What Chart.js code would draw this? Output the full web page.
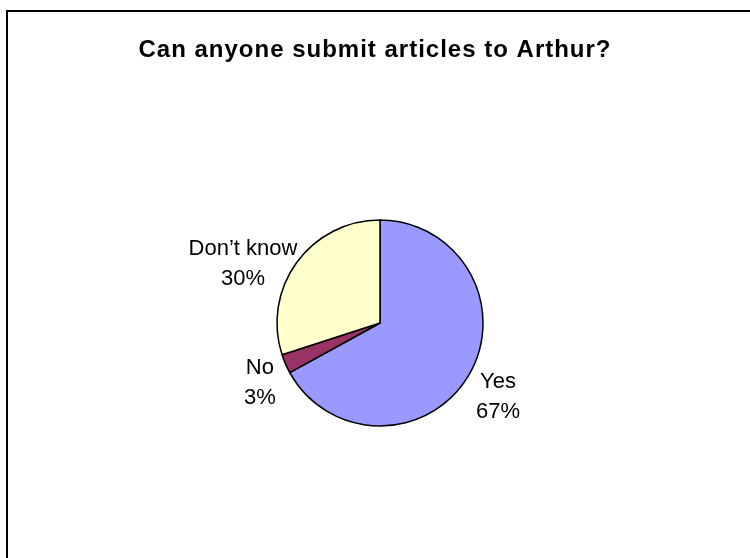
<!DOCTYPE html>
<html>
<head>
<meta charset="utf-8">
<script src="https://cdn.jsdelivr.net/npm/chart.js@4.4.0/dist/chart.umd.min.js"></script>
<style>
    html, body { margin: 0; padding: 0; background: #fff; }
    #wrap { width: 750px; height: 558px; position: relative; }
</style>
</head>
<body>
<div id="wrap"><canvas id="pie"></canvas></div>
<script>
const chartTitle = 'Can anyone submit articles to Arthur?';
const labels = ['Yes', 'No', 'Don\u2019t know'];
const values = [67, 3, 30];
const colors = ['#9999FF', '#993366', '#FFFFCC'];

// frame (left + top edge only, the rest is cropped away) and title
const framePlugin = {
    id: 'frame',
    beforeDraw(chart) {
        const ctx = chart.ctx;
        ctx.save();
        ctx.strokeStyle = '#000';
        ctx.lineWidth = 2;
        ctx.beginPath();
        ctx.moveTo(7, chart.height);
        ctx.lineTo(7, 11);
        ctx.lineTo(chart.width, 11);
        ctx.stroke();
        ctx.fillStyle = '#000';
        ctx.font = 'bold 24px "Liberation Sans", Arial, sans-serif';
        ctx.letterSpacing = '1px';
        ctx.textAlign = 'center';
        ctx.textBaseline = 'middle';
        ctx.fillText(chartTitle, 375, 50);
        ctx.restore();
    }
};

// category + percent labels outside each slice, inner edge just off the rim
const sliceLabels = {
    id: 'sliceLabels',
    afterDatasetsDraw(chart) {
        const ctx = chart.ctx;
        const meta = chart.getDatasetMeta(0);
        const total = values.reduce((a, b) => a + b, 0);
        ctx.save();
        ctx.fillStyle = '#000';
        ctx.font = '22px "Liberation Sans", Arial, sans-serif';
        ctx.textAlign = 'center';
        ctx.textBaseline = 'middle';
        meta.data.forEach((arc, i) => {
            const p = arc.getProps(['x', 'y', 'startAngle', 'endAngle', 'outerRadius'], true);
            const mid = (p.startAngle + p.endAngle) / 2;
            const pct = Math.round(values[i] / total * 100) + '%';
            const w = Math.max(ctx.measureText(labels[i]).width, ctx.measureText(pct).width);
            const d = p.outerRadius + 12;
            const x = p.x + Math.cos(mid) * (d + w / 2);
            const y = p.y + Math.sin(mid) * (d + 6) + 12;
            ctx.fillText(labels[i], x, y - 15);
            ctx.fillText(pct, x, y + 15);
        });
        ctx.restore();
    }
};

new Chart(document.getElementById('pie'), {
    type: 'pie',
    data: {
        labels: labels,
        datasets: [{
            data: values,
            backgroundColor: colors,
            borderColor: '#000',
            borderWidth: 1.5,
            radius: 103
        }]
    },
    options: {
        responsive: true,
        maintainAspectRatio: false,
        animation: false,
        layout: { padding: { left: 10, right: 0, top: 118, bottom: 30 } },
        plugins: {
            legend: { display: false },
            tooltip: { enabled: false },
            title: { display: false }
        }
    },
    plugins: [framePlugin, sliceLabels]
});
</script>
</body>
</html>
